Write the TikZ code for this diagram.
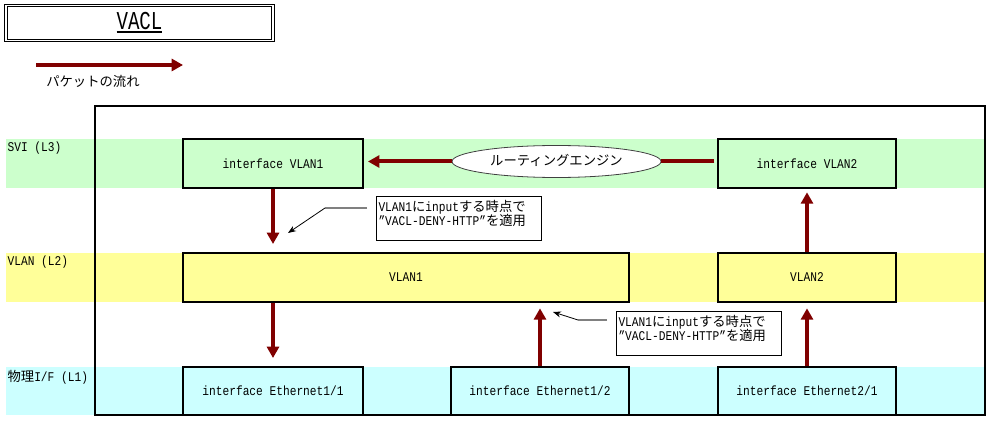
\documentclass[tikz,border=0pt]{standalone}
\usepackage{fontspec}
\setmainfont{Liberation Mono}[FakeStretch=0.84]
\newfontfamily\jp{Noto Sans CJK JP}
\usetikzlibrary{arrows.meta,shapes.geometric}
\newcommand\J[1]{{\jp #1}}
\newcommand\lowstrut{\rule[-7.7pt]{0pt}{7.7pt}}
\definecolor{flowred}{RGB}{128,0,0}
\definecolor{leadgray}{RGB}{128,128,128}
\definecolor{bandthree}{RGB}{204,255,204}
\definecolor{bandtwo}{RGB}{255,255,153}
\definecolor{bandone}{RGB}{204,255,255}
\tikzset{
  every node/.style={font=\fontsize{10pt}{10.5pt}\selectfont},
  flow/.style={draw=flowred, line width=3pt, -{Triangle[width=9pt,length=8.5pt]}},
  flowline/.style={draw=flowred, line width=3pt},
  devbox/.style={draw, line width=1.5pt, minimum height=49*0.75pt, inner sep=0pt},
  note/.style={draw, line width=0.75pt, fill=white, align=left, anchor=north west,
    minimum width=165*0.75pt, minimum height=44*0.75pt, text width=161*0.75pt,
    inner xsep=1.5pt, inner ysep=3pt},
  leadg/.style={draw=leadgray, line width=1.5pt},
  leadb/.style={draw=black, line width=0.6pt, -{Stealth[length=6pt,width=4.5pt]}},
  bandlabel/.style={anchor=west, inner sep=1pt},
}
\begin{document}
\begin{tikzpicture}[x=0.75pt,y=-0.75pt]
\useasboundingbox (0,0) rectangle (996,424);
% bands
\fill[bandthree] (6,139) rectangle (984,188);
\fill[bandtwo] (6,253) rectangle (984,302);
\fill[bandone] (6,367) rectangle (984,415);
\node[bandlabel] (l3) at (6,148) {SVI (L3)};
\node[bandlabel] (l2) at (6,262) {VLAN (L2)};
\node[bandlabel] (l1) at (6,377) {\J{物理}I/F (L1)};
% frame
\draw[line width=1.5pt] (95,106) rectangle (985,415);
% title
\node[draw, line width=0.7pt, double, double distance=1.2pt, minimum width=267*0.75pt, minimum height=35*0.75pt, inner sep=0pt] (title) at (139.5,23)
  {\raisebox{2pt}{\vtop{\hbox{\fontsize{19.3pt}{20pt}\selectfont\scalebox{0.885}[1]{VACL}}\kern1pt\hrule height 1.5pt}}};
% legend
\coordinate (lega) at (36,65);
\coordinate (legb) at (183,65);
\draw[flow] (lega) -- (legb);
\node[anchor=west, inner sep=0pt] (legtext) at (46,81) {\J{パケットの流れ}};
% boxes
\node[devbox, fill=bandthree, minimum width=180*0.75pt] (ifv1) at (273,163.5) {interface VLAN1};
\node[devbox, fill=bandthree, minimum width=178*0.75pt] (ifv2) at (807,163.5) {interface VLAN2};
\node[devbox, fill=bandtwo, minimum width=446*0.75pt] (vlan1) at (406,277.5) {VLAN1};
\node[devbox, fill=bandtwo, minimum width=178*0.75pt] (vlan2) at (807,277.5) {VLAN2};
\node[devbox, fill=bandone, minimum width=180*0.75pt, minimum height=48*0.75pt] (eth11) at (273,391) {interface Ethernet1/1};
\node[devbox, fill=bandone, minimum width=178*0.75pt, minimum height=48*0.75pt] (eth12) at (540,391) {interface Ethernet1/2};
\node[devbox, fill=bandone, minimum width=178*0.75pt, minimum height=48*0.75pt] (eth21) at (807,391) {interface Ethernet2/1};
% routing engine
\node[ellipse, draw=black!75, line width=0.6pt, fill=white, minimum width=209*0.75pt, minimum height=32*0.75pt, inner sep=0pt] (eng) at (556.5,161.5) {\raisebox{2pt}{\J{ルーティングエンジン}}};
% flows
\draw[flow, shorten >=3pt] (eng.west) -- (ifv1.east |- eng.west);
\draw[flowline, shorten <=2pt] (ifv2.west |- eng.east) -- (eng.east);
\draw[flow, shorten >=6pt] (ifv1.south) -- (ifv1.south |- vlan1.north);
\draw[flow, shorten >=6pt] (vlan1.south -| eth11.north) -- (eth11.north);
\draw[flow, shorten >=4pt] (eth12.north) -- (eth12.north |- vlan1.south);
\draw[flow, shorten >=4pt] (eth21.north) -- (vlan2.south);
\draw[flow, shorten >=2.5pt] (vlan2.north) -- (ifv2.south);
% callouts
\node[note] (c1) at (376,196) {VLAN1\J{に}input\J{する時点で}\\”VACL-DENY-HTTP”\J{を適用}\lowstrut};
\node[note] (c2) at (616,311) {VLAN1\J{に}input\J{する時点で}\\”VACL-DENY-HTTP”\J{を適用}\lowstrut};
\coordinate (k1a) at (367,208);
\coordinate (k1b) at (325,208);
\coordinate (k1t) at (288,233);
\draw[leadg] (k1a) -- (k1b);
\draw[leadb] (k1b) -- (k1t);
\coordinate (k2a) at (607,320);
\coordinate (k2b) at (578,320);
\coordinate (k2t) at (553,312);
\draw[leadg] (k2a) -- (k2b);
\draw[leadb] (k2b) -- (k2t);
\end{tikzpicture}
\end{document}
